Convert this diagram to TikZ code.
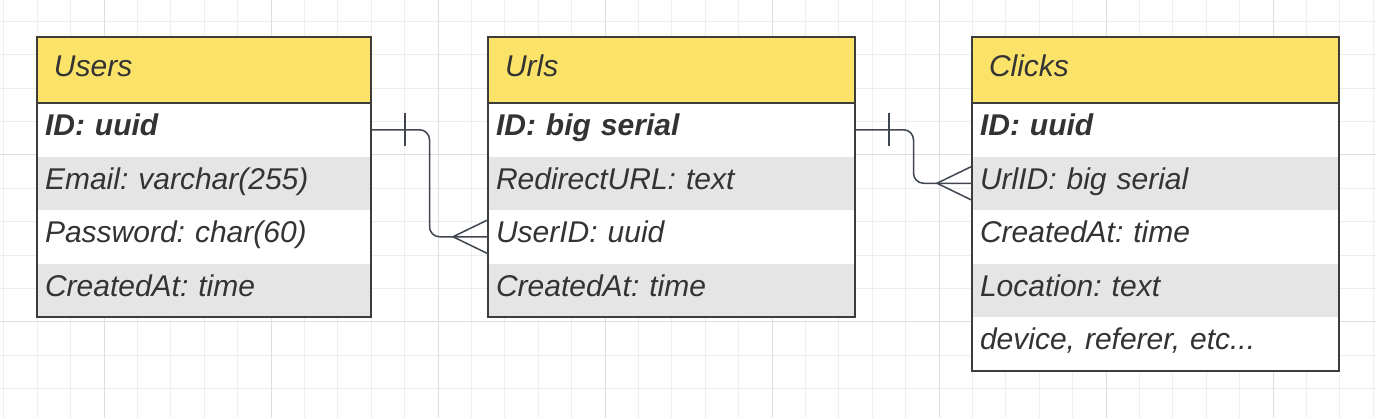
\documentclass[tikz,border=0pt]{standalone}
\usepackage{fontspec}
\setmainfont{Liberation Sans}
\usetikzlibrary{positioning,calc}
\definecolor{headyellow}{HTML}{FBE36A}
\definecolor{rowgrey}{HTML}{E5E5E5}
\definecolor{boxline}{HTML}{3C3C3C}
\definecolor{inkgrey}{HTML}{333333}
\definecolor{linkgrey}{HTML}{3F4650}
\definecolor{gridlight}{HTML}{EEEEEE}
\definecolor{griddark}{HTML}{DEDEDE}
\frenchspacing
\begin{document}
\begin{tikzpicture}[
    x=0.5pt, y=-0.5pt,
    every node/.style={font=\fontsize{15}{18}\selectfont\itshape\frenchspacing, text=inkgrey, outer sep=0pt,
        text height=10pt, text depth=4pt},
    tablehead/.style={fill=headyellow, anchor=north west, inner xsep=8.5pt, inner ysep=0pt, minimum height=33pt, align=left},
    field/.style={inner xsep=4pt, inner ysep=0pt, minimum height=26.75pt, align=left},
    tablebox/.style={draw=boxline, line width=1pt},
    link/.style={draw=linkgrey, line width=0.75pt, rounded corners=5pt},
    erlink/.style={draw=linkgrey, line width=0.75pt}
]
    \useasboundingbox (0,0) rectangle (1376,418);

    % 背景格線
    \foreach \k in {0,...,41}
        \draw[gridlight, line width=0.5pt] ({3.8+33.4*\k},0) -- ({3.8+33.4*\k},418);
    \foreach \k in {0,...,11}
        \draw[gridlight, line width=0.5pt] (0,{21.3+33.4*\k}) -- (1376,{21.3+33.4*\k});
    \foreach \k in {3,8,...,38}
        \draw[griddark, line width=0.5pt] ({3.8+33.4*\k},0) -- ({3.8+33.4*\k},418);
    \foreach \k in {4,9}
        \draw[griddark, line width=0.5pt] (0,{21.3+33.4*\k}) -- (1376,{21.3+33.4*\k});

    % Users
    \node[tablehead, text width=150pt] (users-0) at (37,37) {Users};
    \foreach \txt/\shade [count=\i, remember=\i as \prev (initially 0)] in
        {{\bfseries ID: uuid}/white, Email: varchar(255)/rowgrey,
         Password: char(60)/white, CreatedAt: time/rowgrey}
        \node[field, fill=\shade, text width=159pt, below=0pt of users-\prev] (users-\i) {\txt};
    \draw[tablebox] (users-0.north west) rectangle (users-4.south east);
    \draw[tablebox] (users-0.south west) -- (users-0.south east);

    % Urls
    \node[tablehead, text width=166.5pt] (urls-0) at (488,37) {Urls};
    \foreach \txt/\shade [count=\i, remember=\i as \prev (initially 0)] in
        {{\bfseries ID: big serial}/white, RedirectURL: text/rowgrey,
         UserID: uuid/white, CreatedAt: time/rowgrey}
        \node[field, fill=\shade, text width=175.5pt, below=0pt of urls-\prev] (urls-\i) {\txt};
    \draw[tablebox] (urls-0.north west) rectangle (urls-4.south east);
    \draw[tablebox] (urls-0.south west) -- (urls-0.south east);

    % Clicks
    \node[tablehead, text width=166.5pt] (clicks-0) at (972,37) {Clicks};
    \foreach \txt/\shade [count=\i, remember=\i as \prev (initially 0)] in
        {{\bfseries ID: uuid}/white, UrlID: big serial/rowgrey,
         CreatedAt: time/white, Location: text/rowgrey,
         {device, referer, etc...}/white}
        \node[field, fill=\shade, text width=175.5pt, below=0pt of clicks-\prev] (clicks-\i) {\txt};
    \draw[tablebox] (clicks-0.north west) rectangle (clicks-5.south east);
    \draw[tablebox] (clicks-0.south west) -- (clicks-0.south east);

    % Users -- Urls
    \coordinate (bend-a) at ($(users-1.east)!0.5!(urls-3.west)$);
    \draw[link] (users-1.east) -| (bend-a) |- (urls-3.west);
    \draw[erlink] ($(users-1.east)+(34,-16.5)$) -- ($(users-1.east)+(34,16.5)$);
    \draw[erlink] ($(urls-3.west)+(0,-17)$) -- ($(urls-3.west)+(-35,0)$) -- ($(urls-3.west)+(0,17)$);

    % Urls -- Clicks
    \coordinate (bend-b) at ($(urls-1.east)!0.5!(clicks-2.west)$);
    \draw[link] (urls-1.east) -| (bend-b) |- (clicks-2.west);
    \draw[erlink] ($(urls-1.east)+(34,-16.5)$) -- ($(urls-1.east)+(34,16.5)$);
    \draw[erlink] ($(clicks-2.west)+(0,-17)$) -- ($(clicks-2.west)+(-35,0)$) -- ($(clicks-2.west)+(0,17)$);
\end{tikzpicture}
\end{document}
